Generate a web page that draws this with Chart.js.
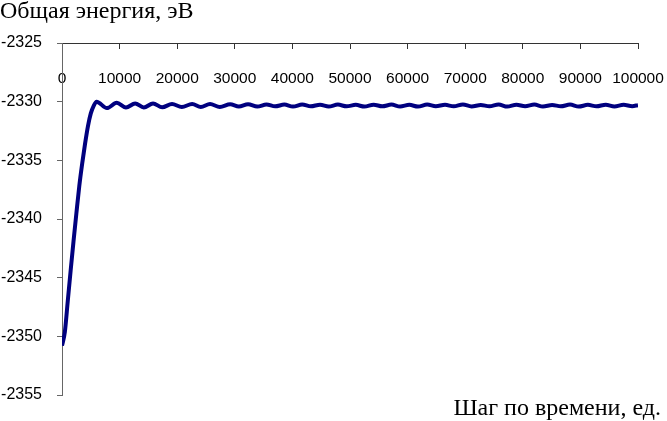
<!DOCTYPE html>
<html>
<head>
<meta charset="utf-8">
<script src="https://cdn.jsdelivr.net/npm/chart.js@4.4.1/dist/chart.umd.min.js"></script>
<style>
  body { margin: 0; background: #fff; }
</style>
</head>
<body>
<canvas id="energyChart" width="667" height="421"></canvas>
<script>
    // Шаг по времени и общая энергия
    const steps = [
        0, 500, 1000, 1500, 2000, 2500, 3000, 3500, 4000, 4500, 5000, 5500,
        6000, 7800, 9500, 11100, 12700, 14200, 15800, 17400, 19100, 20800,
        22600, 24100, 25700, 27400, 29200, 30700, 32300,
        33900, 35500, 37000, 38600, 40100, 41700, 43200, 44800, 46300, 47900,
        49400, 51000, 52500, 54100, 55600, 57200, 58700, 60300, 61800, 63400,
        64900, 66500, 68000, 69600, 71100, 72700, 74200, 75800, 77300, 78900,
        80400, 82000, 83500, 85100, 86600, 88200, 89700, 91300, 92800, 94400,
        95900, 97500, 99000, 100000
    ];
    const energy = [
        -2350.8, -2349.6, -2347.0, -2344.4, -2341.9, -2339.5, -2337.2, -2335.3, -2333.6, -2332.1, -2331.0, -2330.35,
        -2330.0, -2330.55, -2330.1, -2330.5, -2330.15, -2330.5, -2330.15, -2330.48, -2330.2, -2330.45,
        -2330.2, -2330.45, -2330.2, -2330.45, -2330.22, -2330.42, -2330.22,
        -2330.42, -2330.24, -2330.40, -2330.25, -2330.42, -2330.24, -2330.40, -2330.26, -2330.41, -2330.25,
        -2330.40, -2330.27, -2330.42, -2330.26, -2330.40, -2330.25, -2330.41, -2330.27, -2330.42, -2330.25,
        -2330.39, -2330.27, -2330.40, -2330.24, -2330.41, -2330.28, -2330.40, -2330.24, -2330.42, -2330.26,
        -2330.39, -2330.25, -2330.41, -2330.28, -2330.40, -2330.25, -2330.42, -2330.27, -2330.40, -2330.26,
        -2330.41, -2330.27, -2330.38, -2330.30
    ];
    const yTicks = [-2355, -2350, -2345, -2340, -2335, -2330, -2325];
    const xTicks = [0, 10000, 20000, 30000, 40000, 50000, 60000, 70000, 80000, 90000, 100000];

    const yTitle = 'Общая энергия, эВ';
    const xTitle = 'Шаг по времени, ед.';

    // подписи осей как на оригинале: слева сверху и справа снизу
    const axisTexts = {
        id: 'axisTexts',
        afterDraw(chart) {
            const c = chart.ctx;
            c.save();
            c.fillStyle = '#000';
            c.font = '24px "Liberation Serif", "Times New Roman", serif';
            c.textBaseline = 'alphabetic';
            c.textAlign = 'left';
            c.fillText(yTitle, 0, 18);
            c.textAlign = 'right';
            c.fillText(xTitle, 661, 415);
            c.restore();
        }
    };

    const ctxEnergy = document.getElementById('energyChart').getContext('2d');
    const chartEnergy = new Chart(ctxEnergy, {
        type: 'line',
        data: {
            datasets: [{
                data: steps.map((s, i) => ({ x: s, y: energy[i] })),
                borderColor: '#00007f',
                borderWidth: 4,
                pointRadius: 0,
                cubicInterpolationMode: 'monotone',
                fill: false
            }]
        },
        options: {
            responsive: false,
            animation: false,
            layout: {
                padding: { top: 43, bottom: 26, right: 29, left: 0 }
            },
            plugins: {
                legend: { display: false },
                tooltip: { enabled: false }
            },
            scales: {
                x: {
                    type: 'linear',
                    position: { y: -2325 },
                    min: 0,
                    max: 100000,
                    afterBuildTicks: (scale) => { scale.ticks = xTicks.map(v => ({ value: v })); },
                    afterFit: (scale) => { scale.paddingLeft = 0; scale.paddingRight = 0; },
                    grid: { drawOnChartArea: false, drawTicks: true, tickLength: 5, color: '#333' },
                    border: { color: '#333', width: 1 },
                    ticks: {
                        color: '#000',
                        padding: 21,
                        maxRotation: 0,
                        autoSkip: false,
                        font: { family: '"Liberation Sans", Arial, sans-serif', size: 15.5 },
                        callback: (v) => String(v)
                    }
                },
                y: {
                    type: 'linear',
                    min: -2355,
                    max: -2325,
                    afterBuildTicks: (scale) => { scale.ticks = yTicks.map(v => ({ value: v })); },
                    afterFit: (scale) => { scale.width = 62; },
                    grid: { drawOnChartArea: false, drawTicks: true, tickLength: 5, color: '#666' },
                    border: { color: '#666', width: 1 },
                    ticks: {
                        color: '#000',
                        padding: 15,
                        autoSkip: false,
                        font: { family: '"Liberation Sans", Arial, sans-serif', size: 16 },
                        callback: (v) => String(v)
                    }
                }
            }
        },
        plugins: [axisTexts]
    });
</script>
</body>
</html>
